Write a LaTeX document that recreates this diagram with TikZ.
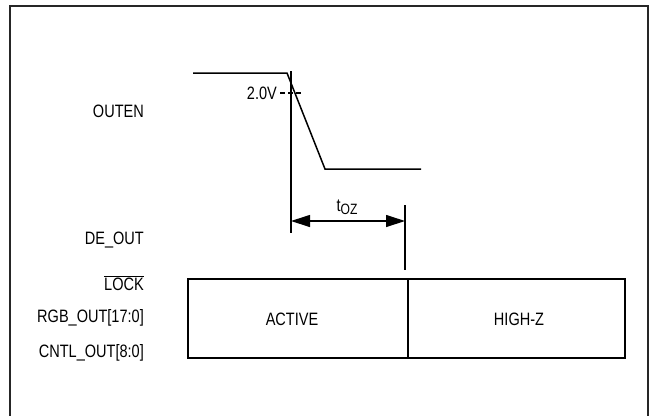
\documentclass[tikz,border=0pt]{standalone}
\usepackage{fontspec}
\setmainfont[FakeStretch=0.81]{Liberation Sans}
\usetikzlibrary{arrows.meta}
\begin{document}
\begin{tikzpicture}[x=1bp,y=-1bp,
  lbl/.style={anchor=east,inner sep=0pt,font=\fontsize{18}{21}\selectfont},
  txt/.style={inner sep=0pt,font=\fontsize{18}{21}\selectfont},
  wave/.style={line width=1.5bp,line join=miter},
  guide/.style={line width=1.2bp},
  frame/.style={line width=2bp,draw=black!85}]
\useasboundingbox (0,0) rectangle (650,415);
\draw[frame] (9.5,6) rectangle (647.5,425);
% labels
\node[lbl] (outen) at (144,111) {OUTEN};
\node[lbl] (deout) at (144,240) {DE\_OUT};
\node[lbl] (lock) at (144,283) {$\overline{\mbox{LOCK}}$};
\node[lbl] (rgb) at (144,318) {RGB\_OUT[17:0]};
\node[lbl] (cntl) at (144,353) {CNTL\_OUT[8:0]};
% OUTEN waveform
\coordinate (w0) at (193,73);
\coordinate (w1) at (287,73);
\coordinate (w2) at (325,169);
\coordinate (w3) at (421,169);
\draw[wave] (w0) -- (w1) -- (w2) -- (w3);
% threshold
\coordinate (d0) at (280,93);
\coordinate (d1) at (304,93);
\draw[guide,dash pattern=on 5bp off 3bp] (d0) -- (d1);
\node[txt,anchor=east] (v20) at (277,93) {2.0V};
% timing guides
\coordinate (g0) at (291,71);
\coordinate (g1) at (291,233);
\draw[guide] (g0) -- (g1);
\coordinate (h0) at (405,205);
\coordinate (h1) at (405,270);
\draw[guide] (h0) -- (h1);
\coordinate (a0) at (291,221);
\coordinate (a1) at (405,221);
\draw[guide,{Triangle[length=19bp,width=12bp]}-{Triangle[length=19bp,width=12bp]}] (a0) -- (a1);
\node[txt] (toz) at (347,207) {t\raisebox{-0.3ex}{\fontsize{15}{17}\selectfont OZ}};
% bus box
\draw[guide] (188,279) rectangle (625,358);
\draw[guide] (408,279) -- (408,358);
\node[txt] (active) at (292,319) {ACTIVE};
\node[txt] (highz) at (519,319) {HIGH-Z};
\end{tikzpicture}
\end{document}
